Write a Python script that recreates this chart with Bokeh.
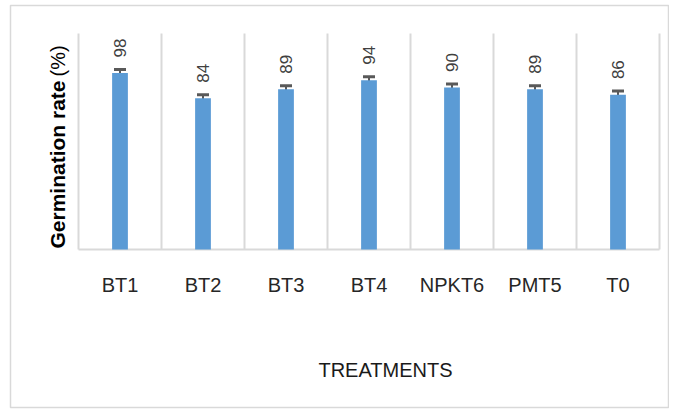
import numpy as np
from math import pi
from bokeh.plotting import figure
from bokeh.models import Range1d, ColumnDataSource, Whisker
from bokeh.core.properties import value
from bokeh.embed import file_html
from bokeh.resources import INLINE

treatments = ["BT1", "BT2", "BT3", "BT4", "NPKT6", "PMT5", "T0"]
germination = [98, 84, 89, 94, 90, 89, 86]
errors = [2, 2, 2, 2, 2, 2, 2]
value_labels = ["98", "84", "89", "94", "90", "89", "86"]
x_title = "TREATMENTS"
y_title_bold = "Germination rate"
y_title_unit = "(%)"
y_max = 120

# layout (pixels on the canvas)
W, H = 669, 409
FL, FR, FT, FB = 10, 668, 5, 407          # outer box = frame
PL, PR, PT, PB = 78, 659, 33, 249         # plot area inside the box

n = len(treatments)
ux = (PR - PL) / n
uy = (PB - PT) / y_max
x_start = -(PL - FL) / ux
x_end = n + (FR - PR) / ux
y_start = -(FB - PB) / uy
y_end = y_max + (PT - FT) / uy

xpos = np.arange(n) + 0.5
g = np.array(germination, dtype=float)
e = np.array(errors, dtype=float)
src = ColumnDataSource(dict(x=xpos, top=g, upper=g + e, lower=g - e, lab=value_labels, cat=treatments))

p = figure(width=W, height=H, output_backend="svg", toolbar_location=None,
           x_range=Range1d(x_start, x_end), y_range=Range1d(y_start, y_end),
           min_border_left=FL, min_border_right=W - FR, min_border_top=FT, min_border_bottom=H - FB,
           x_axis_location=None, y_axis_location=None)
p.grid.visible = False
p.outline_line_color = "#d9d9d9"
p.outline_line_width = 1.5
p.background_fill_color = "white"
p.border_fill_color = "white"

GRID = "#d9d9d9"
bounds = np.arange(n + 1)
p.segment(x0=bounds, y0=0, x1=bounds, y1=y_max, line_color=GRID, line_width=2)
p.segment(x0=[0], y0=[0], x1=[n], y1=[0], line_color=GRID, line_width=2)

p.vbar(x="x", top="top", width=0.19, bottom=0, source=src, fill_color="#5B9BD5", line_color=None)

w = Whisker(base="x", upper="upper", lower="lower", source=src, line_color="#595959", line_width=2)
for head in (w.upper_head, w.lower_head):
    head.size = 12
    head.line_color = "#595959"
    head.line_width = 3
p.add_layout(w)

FONT = value("Liberation Sans")

p.text(x="x", y="upper", text="lab", source=src, angle=pi / 2, y_offset=-12,
       text_align="left", text_baseline="middle", text_font_size="17px",
       text_color="#404040", text_font=FONT)

# category labels under the axis
p.text(x="x", y=0, text="cat", source=src, y_offset=35,
       text_align="center", text_baseline="middle", text_font_size="20px",
       text_color="#262626", text_font=FONT)

# x axis title
p.text(x=[(385 - PL) / ux], y=[0], text=[x_title], y_offset=120,
       text_align="center", text_baseline="middle", text_font_size="20px",
       text_color="#1a1a1a", text_font=FONT)

# y axis title (bold part + unit)
yx = (57 - PL) / ux
p.text(x=[yx], y=[(PB - 248) / uy], text=[y_title_bold], angle=pi / 2,
       text_align="left", text_baseline="middle", text_font_size="21px",
       text_font_style="bold", text_color="black", text_font=FONT)
p.text(x=[yx], y=[(PB - 76) / uy], text=[y_title_unit], angle=pi / 2,
       text_align="left", text_baseline="middle", text_font_size="20px",
       text_color="black", text_font=FONT)

open("out.html", "w").write(file_html(p, INLINE))
